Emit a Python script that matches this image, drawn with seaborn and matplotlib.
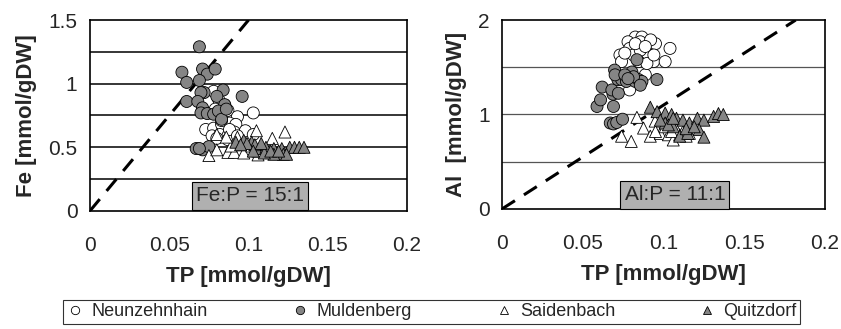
import numpy as np
import pandas as pd
import matplotlib
matplotlib.use("Agg")
import matplotlib.pyplot as plt
from matplotlib.lines import Line2D
import seaborn as sns

####Data########################################################################
lakes = ["Neunzehnhain", "Muldenberg", "Saidenbach", "Quitzdorf"]

# Fe panel
tp_fe_neun = [0.078, 0.081, 0.087, 0.093, 0.103, 0.073, 0.078, 0.083, 0.088, 0.092, 0.077, 0.082,
              0.087, 0.091, 0.098, 0.087, 0.083, 0.088, 0.079, 0.085, 0.093, 0.080, 0.103]
fe_neun = [0.94, 0.88, 0.79, 0.74, 0.77, 0.64, 0.65, 0.68, 0.69, 0.68, 0.59, 0.60,
           0.59, 0.62, 0.63, 0.56, 0.71, 0.64, 0.80, 0.83, 0.59, 0.57, 0.60]
tp_fe_muld = [0.069, 0.058, 0.061, 0.071, 0.074, 0.079, 0.069, 0.072, 0.070, 0.084, 0.096, 0.061, 0.068,
              0.080, 0.071, 0.085, 0.070, 0.074, 0.078, 0.081, 0.083, 0.086, 0.067, 0.071, 0.075, 0.069]
fe_muld = [1.29, 1.09, 1.01, 1.115, 1.075, 1.115, 1.025, 0.93, 0.93, 0.95, 0.90, 0.86, 0.86,
           0.90, 0.81, 0.835, 0.77, 0.765, 0.76, 0.785, 0.72, 0.80, 0.49, 0.48, 0.505, 0.49]
tp_fe_said = [0.075, 0.080, 0.087, 0.091, 0.097, 0.106, 0.123, 0.105, 0.115, 0.080, 0.096, 0.106,
              0.089, 0.113, 0.119, 0.093, 0.102, 0.086]
fe_said = [0.435, 0.48, 0.46, 0.46, 0.455, 0.44, 0.62, 0.63, 0.57, 0.60, 0.52, 0.47,
           0.51, 0.47, 0.45, 0.58, 0.51, 0.58]
tp_fe_quit = [0.092, 0.097, 0.102, 0.107, 0.111, 0.116, 0.121, 0.126, 0.129, 0.132, 0.135, 0.122,
              0.124, 0.116, 0.110, 0.104, 0.099, 0.114, 0.103, 0.119, 0.095, 0.108]
fe_quit = [0.54, 0.555, 0.54, 0.49, 0.50, 0.49, 0.49, 0.50, 0.50, 0.50, 0.50, 0.445,
           0.445, 0.445, 0.455, 0.52, 0.53, 0.47, 0.47, 0.47, 0.52, 0.53]

# Al panel
tp_al_neun = [0.0825, 0.0866, 0.078, 0.073, 0.074, 0.079, 0.0856, 0.0897, 0.0938, 0.101, 0.104, 0.095,
              0.092, 0.079, 0.0887, 0.0845, 0.0814, 0.076, 0.0897, 0.0856, 0.094, 0.0825, 0.0887]
al_neun = [1.82, 1.82, 1.77, 1.63, 1.56, 1.70, 1.77, 1.65, 1.56, 1.56, 1.70, 1.75,
           1.79, 1.26, 1.42, 1.56, 1.63, 1.65, 1.54, 1.68, 1.63, 1.75, 1.72]
tp_al_muld = [0.0588, 0.061, 0.062, 0.069, 0.0687, 0.068, 0.072, 0.0697, 0.0717, 0.074, 0.077, 0.0804, 0.0835,
              0.0825, 0.0845, 0.0866, 0.0959, 0.0814, 0.0856, 0.067, 0.069, 0.071, 0.0746, 0.070, 0.076, 0.078]
al_muld = [1.085, 1.155, 1.29, 1.085, 1.215, 1.26, 1.225, 1.47, 1.37, 1.37, 1.35, 1.45, 1.58,
           1.35, 1.37, 1.35, 1.37, 1.40, 1.31, 0.91, 0.90, 0.915, 0.95, 1.42, 1.42, 1.38]
tp_al_said = [0.0835, 0.074, 0.080, 0.0876, 0.0918, 0.0948, 0.098, 0.103, 0.106, 0.110, 0.114, 0.101,
              0.108, 0.116, 0.095, 0.105, 0.112]
al_said = [0.97, 0.77, 0.715, 0.856, 0.77, 0.93, 0.80, 0.785, 0.73, 0.785, 0.77, 0.87,
           0.84, 0.80, 0.82, 0.82, 0.82]
tp_al_quit = [0.0918, 0.096, 0.101, 0.105, 0.108, 0.112, 0.116, 0.121, 0.125, 0.131, 0.134, 0.137,
              0.101, 0.106, 0.110, 0.115, 0.122, 0.125, 0.098, 0.103, 0.114, 0.106, 0.119]
al_quit = [1.077, 1.03, 1.015, 1.00, 0.96, 0.94, 0.91, 0.96, 0.94, 0.98, 1.01, 1.00,
           0.91, 0.87, 0.77, 0.80, 0.84, 0.76, 0.94, 0.89, 0.85, 0.96, 0.87]

fe_ratio = 15
al_ratio = 11


####Build long tables###########################################################
def long_table(pairs, col):
    frames = []
    for lake, (x, y) in zip(lakes, pairs):
        frames.append(pd.DataFrame({"TP": x, col: y, "lake": lake}))
    return pd.concat(frames, ignore_index=True)

df_fe = long_table([(tp_fe_neun, fe_neun), (tp_fe_muld, fe_muld),
                    (tp_fe_said, fe_said), (tp_fe_quit, fe_quit)], "Fe")
df_al = long_table([(tp_al_neun, al_neun), (tp_al_muld, al_muld),
                    (tp_al_said, al_said), (tp_al_quit, al_quit)], "Al")

gray = "#858585"
palette = {"Neunzehnhain": "white", "Muldenberg": gray, "Saidenbach": "white", "Quitzdorf": gray}
markers = {"Neunzehnhain": "o", "Muldenberg": "o", "Saidenbach": "^", "Quitzdorf": "^"}


####Plot########################################################################
sns.set_style("white")
plt.rcParams["font.family"] = ["Liberation Sans", "DejaVu Sans"]
plt.rcParams["font.size"] = 14

fig = plt.figure(figsize=(8.41, 3.29), dpi=100)
ax1 = fig.add_axes([0.107, 0.359, 0.377, 0.580])
ax2 = fig.add_axes([0.597, 0.365, 0.384, 0.574])


def fmt(v):
    return f"{v:g}"


def style_axis(ax, ymax, grid_step, major_step, grid_color, grid_lw):
    for yv in np.arange(grid_step, ymax, grid_step):
        ax.axhline(yv, color=grid_color, lw=grid_lw, zorder=0)
    ax.set_xlim(0, 0.2)
    ax.set_ylim(0, ymax)
    xt = np.arange(0, 0.2001, 0.05)
    yt = np.arange(0, ymax + 0.001, major_step)
    ax.set_xticks(xt)
    ax.set_xticklabels([fmt(round(v, 2)) for v in xt], fontsize=15)
    ax.set_yticks(yt)
    ax.set_yticklabels([fmt(round(v, 2)) for v in yt], fontsize=15)
    ax.tick_params(axis="both", direction="out", length=4, width=1, color="black", pad=5)
    ax.tick_params(axis="x", length=5, pad=13)
    for s in ax.spines.values():
        s.set_color("black")
        s.set_linewidth(1.2)
    ax.set_xlabel("TP [mmol/gDW]", fontweight="bold", fontsize=16, labelpad=8)


for ax, df, col, ratio, ymax, label in [(ax1, df_fe, "Fe", fe_ratio, 1.5, "Fe [mmol/gDW]"),
                                         (ax2, df_al, "Al", al_ratio, 2.0, "Al  [mmol/gDW]")]:
    if col == "Fe":
        style_axis(ax, ymax, 0.25, 0.5, "black", 1.1)
    else:
        style_axis(ax, ymax, 0.5, 1.0, "#555555", 0.9)
    sns.scatterplot(data=df, x="TP", y=col, hue="lake", style="lake",
                    palette=palette, markers=markers, s=75,
                    edgecolor="black", linewidth=0.6, legend=False, ax=ax, zorder=3)
    xl = np.array([0, ymax / ratio])
    ax.plot(xl, ratio * xl, color="black", lw=2.2, ls=(0, (5, 3.5)), zorder=2)
    ax.set_ylabel(label, fontweight="bold", fontsize=16, labelpad=8)

ax1.text(0.101, 0.118, f"Fe:P = {fe_ratio}:1", ha="center", va="center", fontsize=15,
         bbox=dict(boxstyle="square,pad=0.2", fc="#b0b0b0", ec="black", lw=0.8), zorder=4)
ax2.text(0.107, 0.148, f"Al:P = {al_ratio}:1", ha="center", va="center", fontsize=15,
         bbox=dict(boxstyle="square,pad=0.2", fc="#b0b0b0", ec="black", lw=0.8), zorder=4)

handles = [Line2D([], [], ls="none", marker=markers[l], markerfacecolor=palette[l],
                  markeredgecolor="black", markeredgewidth=0.6, markersize=6) for l in lakes]
leg = fig.legend(handles, lakes, loc="lower center", bbox_to_anchor=(0.513, 0.015),
                 ncol=4, frameon=True, fontsize=13, handletextpad=0.4,
                 handlelength=1.0, borderpad=0.2, borderaxespad=0, columnspacing=4.6,
                 fancybox=False, edgecolor="black")
leg.get_frame().set_linewidth(0.8)

fig.savefig("out.png", dpi=100)
